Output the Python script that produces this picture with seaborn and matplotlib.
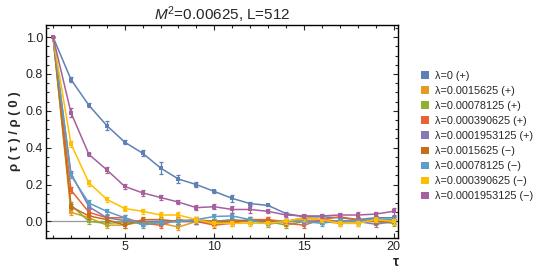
import numpy as np
import pandas as pd
import seaborn as sns
import matplotlib
matplotlib.use("Agg")
import matplotlib.pyplot as plt
from matplotlib.patches import Patch
from matplotlib.ticker import MultipleLocator

tau = list(range(1, 21))

labels = ["λ=0 (+)", "λ=0.0015625 (+)", "λ=0.00078125 (+)", "λ=0.000390625 (+)",
          "λ=0.0001953125 (+)", "λ=0.0015625 (−)", "λ=0.00078125 (−)",
          "λ=0.000390625 (−)", "λ=0.0001953125 (−)"]
colors = ["#5E81B5", "#E19C24", "#8FB032", "#EB6235", "#8778B3",
          "#C56E1A", "#5D9EC7", "#FFBF00", "#A5609D"]

lam0_p = [1.0, 0.77, 0.63, 0.52, 0.43, 0.37, 0.29, 0.23, 0.20, 0.163,
          0.125, 0.097, 0.087, 0.043, 0.025, 0.025, 0.02, 0.01, 0.02, 0.02]
lam1_p = [1.0, 0.05, 0.02, -0.02, -0.02, 0.0, -0.01, -0.03, 0.0, 0.0,
          0.0, 0.0, 0.01, 0.0, 0.01, 0.0, -0.01, -0.01, 0.01, 0.0]
lam2_p = [1.0, 0.09, 0.0, -0.01, -0.005, -0.01, 0.0, 0.0, 0.0, -0.01,
          0.0, 0.0, 0.0, -0.02, 0.0, 0.0, 0.0, 0.0, 0.0, -0.01]
lam3_p = [1.0, 0.17, 0.05, 0.02, 0.02, -0.01, -0.02, 0.01, 0.0, -0.02,
          -0.01, 0.01, 0.01, -0.01, -0.02, 0.01, 0.025, 0.01, 0.0, 0.01]
lam4_p = [1.0, 0.26, 0.08, 0.02, 0.005, 0.0, 0.0, 0.0, 0.0, 0.0,
          0.01, 0.0, 0.0, 0.0, 0.0, 0.0, 0.0, 0.0, -0.015, 0.0]
lam1_m = [1.0, 0.08, 0.03, 0.01, -0.02, 0.01, 0.01, 0.0, 0.01, 0.0,
          0.0, 0.01, 0.0, 0.0, 0.02, 0.01, 0.0, 0.01, 0.0, 0.0]
lam2_m = [1.0, 0.25, 0.10, 0.055, 0.02, -0.02, -0.005, 0.0, 0.01, 0.027,
          0.03, 0.01, -0.015, 0.0, 0.0, -0.01, 0.005, 0.0, 0.015, 0.01]
lam3_m = [1.0, 0.42, 0.21, 0.12, 0.07, 0.055, 0.035, 0.035, 0.01, -0.01,
          -0.01, -0.01, -0.01, 0.0, 0.02, 0.01, -0.01, -0.01, 0.01, 0.0]
lam4_m = [1.0, 0.59, 0.364, 0.28, 0.19, 0.155, 0.13, 0.105, 0.075, 0.08,
          0.065, 0.065, 0.055, 0.035, 0.03, 0.03, 0.035, 0.035, 0.04, 0.055]

err0_p = [0.0, 0.015, 0.01, 0.025, 0.01, 0.015, 0.03, 0.02, 0.015, 0.01,
          0.02, 0.01, 0.005, 0.01, 0.01, 0.01, 0.01, 0.01, 0.01, 0.01]
err_small = [0.0] + [0.015] * 19
err4_m = [0.0, 0.025, 0.01, 0.015, 0.015, 0.015, 0.015, 0.01, 0.015, 0.015,
          0.02, 0.02, 0.01, 0.01, 0.01, 0.01, 0.01, 0.015, 0.01, 0.02]

series = [lam0_p, lam1_p, lam2_p, lam3_p, lam4_p, lam1_m, lam2_m, lam3_m, lam4_m]
errors = [err0_p, err_small, err_small, err_small, err_small, err_small,
          err_small, err_small, err4_m]

sns.set_style("ticks")
plt.rcParams['font.family'] = ['Liberation Sans', 'DejaVu Sans']
plt.rcParams['mathtext.fontset'] = 'custom'
plt.rcParams['mathtext.rm'] = 'Liberation Sans'
plt.rcParams['mathtext.it'] = 'Liberation Sans:italic'

fig = plt.figure(figsize=(5.4, 2.73), dpi=100)
ax = fig.add_axes([0.085, 0.128, 0.652, 0.78])

ax.axhline(0, color="#999999", lw=0.9, zorder=0)

for lab, vals, err, col in zip(labels, series, errors, colors):
    df = pd.DataFrame({"tau": tau, "rho": vals})
    sns.lineplot(data=df, x="tau", y="rho", color=col, marker="s",
                 markersize=2.5, markeredgewidth=0, lw=1.1, ax=ax, legend=False)
    ax.errorbar(tau, vals, yerr=err, fmt="none", ecolor=col, elinewidth=0.9,
                capsize=1.5, capthick=0.9)

ax.set_xlim(0.6, 20.25)
ax.set_ylim(-0.09, 1.065)
ax.xaxis.set_major_locator(MultipleLocator(5))
ax.xaxis.set_minor_locator(MultipleLocator(1))
ax.yaxis.set_major_locator(MultipleLocator(0.2))
ax.yaxis.set_minor_locator(MultipleLocator(0.05))
ax.yaxis.set_major_formatter(matplotlib.ticker.FormatStrFormatter('%.1f'))
ax.tick_params(which="both", direction="in", top=True, right=True,
               labelsize=9, width=0.8, pad=2)
ax.tick_params(which="major", length=3.5)
ax.tick_params(which="minor", length=2)
for s in ax.spines.values():
    s.set_linewidth(1.0)
    s.set_color("black")

ax.set_xlabel("")
ax.set_ylabel("")
fig.text(0.028, 0.52, "ρ ( τ ) / ρ ( 0 )", rotation=90, ha="center", va="center",
         fontsize=9.5, fontweight="bold")
fig.text(0.733, 0.04, "τ", ha="center", va="center", fontsize=10, fontweight="bold")
ax.set_title("$M^2$=0.00625, L=512", fontsize=11, pad=3)

handles = [Patch(facecolor=c, edgecolor="none") for c in colors]
fig.legend(handles, labels, loc="upper left", bbox_to_anchor=(0.772, 0.757),
           frameon=False, fontsize=7.8, handlelength=0.7, handleheight=0.7,
           handletextpad=0.55, labelspacing=0.47, borderaxespad=0)

fig.savefig("out.png", dpi=100)
